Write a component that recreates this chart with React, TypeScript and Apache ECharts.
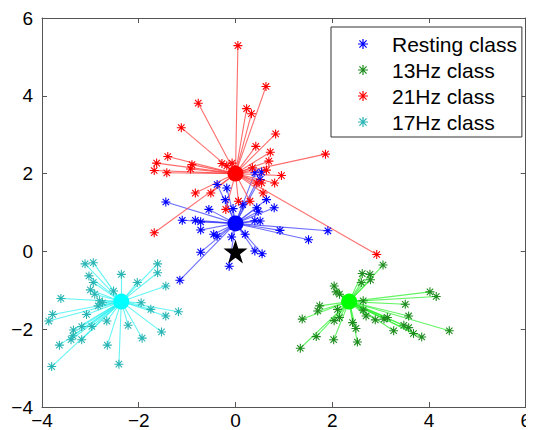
import React, { useEffect, useRef } from "react";
import * as echarts from "echarts";

const xTicks = [-4, -2, 0, 2, 4, 6];
const yTicks = [-4, -2, 0, 2, 4, 6];

const classNames = ["Resting class", "13Hz class", "21Hz class", "17Hz class"];

const restingCenter = [0, 0.72];
const hz13Center = [2.35, -1.29];
const hz21Center = [0, 2.0];
const hz17Center = [-2.36, -1.29];
const testPoint = [0, 0];

const restingPoints = [
  [-1.44, 1.27], [-0.38, 1.72], [-0.18, 1.63], [0.4, 2.02], [0.54, 2.04], [0.51, 1.85],
  [0.8, 1.12], [0.64, 1.33], [0.44, 1.12], [-0.55, 1.08], [-0.21, 1.33], [-1.1, 0.8],
  [-0.83, 0.8], [-0.72, 0.76], [-0.72, 0.55], [-0.45, 0.44], [-0.38, 0.39], [0.2, 0.44],
  [0.4, 0.79], [0.51, 0.78], [0.92, 0.54], [1.91, 0.53], [1.51, 0.3], [0.4, 0.01],
  [0.55, -0.06], [-0.72, -0.02], [-0.13, -0.38], [-1.15, -0.74], [-0.08, 0.37], [0.47, 1.03],
  [0.15, 1.2], [-0.05, 1.1],
];

const hz13Points = [
  [3.05, -0.35], [2.62, -0.57], [2.78, -0.59], [2.79, -0.73], [2.6, -0.8], [2.04, -0.89],
  [2.08, -1.04], [2.15, -1.1], [4.02, -1.04], [4.15, -1.16], [3.51, -1.36], [2.64, -1.27],
  [1.74, -1.4], [1.7, -1.53], [2.11, -1.49], [2.15, -1.7], [1.38, -1.74], [3.58, -1.66],
  [2.7, -1.66], [2.89, -1.76], [3.07, -1.74], [3.14, -1.7], [3.27, -2.04], [3.48, -1.9],
  [3.58, -1.96], [3.68, -2.11], [3.85, -2.2], [4.42, -2.04], [2.04, -1.78], [2.42, -1.83],
  [2.49, -1.98], [1.67, -2.19], [2.03, -2.27], [2.52, -2.33], [1.34, -2.49], [2.64, -1.51],
];

const hz21Points = [
  [0.05, 5.29], [0.63, 4.24], [-0.77, 3.81], [-1.12, 3.18], [0.23, 3.67], [0.33, 3.54],
  [0.83, 3.02], [0.42, 2.7], [1.86, 2.5], [0.72, 2.55], [0.69, 2.32], [0.95, 1.95],
  [0.81, 1.76], [0.64, 2.09], [0.54, 1.76], [-1.4, 2.44], [-1.63, 2.27], [-1.68, 2.08],
  [-1.42, 2.02], [-0.9, 2.23], [-0.93, 2.12], [-0.28, 2.26], [-0.18, 2.2], [-0.07, 2.27],
  [-0.83, 1.5], [-0.51, 1.5], [0.57, 1.5], [0.3, 1.29], [-0.2, 1.08], [0.06, 1.29],
  [2.92, -0.08], [-1.68, 0.48], [0.44, 1.76], [0.35, 2.15],
];

const hz17Points = [
  [-3.11, -0.32], [-2.94, -0.29], [-3.03, -0.63], [-2.94, -0.8], [-3.0, -0.99], [-2.91, -1.1],
  [-3.61, -1.21], [-2.81, -1.27], [-2.75, -1.32], [-2.84, -1.4], [-2.52, -1.02], [-2.36, -0.59],
  [-2.03, -0.8], [-1.61, -0.32], [-1.61, -0.55], [-1.44, -0.89], [-1.95, -1.32], [-1.75, -1.49],
  [-1.44, -1.66], [-1.18, -1.55], [-1.53, -2.07], [-1.93, -2.23], [-2.22, -1.9], [-2.66, -1.79],
  [-2.97, -1.93], [-3.08, -1.62], [-3.78, -1.62], [-3.86, -1.79], [-3.18, -1.93], [-3.35, -2.02],
  [-3.36, -2.17], [-3.4, -2.27], [-3.18, -2.27], [-3.64, -2.41], [-2.65, -2.41], [-2.41, -2.9],
  [-3.8, -2.96],
];

const ASTERISK =
  "path://M0,44 L100,44 L100,56 L0,56 Z M44,0 L56,0 L56,100 L44,100 Z " +
  "M18.5,10 L90,81.5 L81.5,90 L10,18.5 Z M10,81.5 L81.5,10 L90,18.5 L18.5,90 Z";
const STAR =
  "path://M50,0 L61.17,34.63 L97.55,34.55 L68.07,55.87 L79.39,90.45 L50,69 L20.61,90.45 L31.93,55.87 L2.45,34.55 L38.83,34.63 Z";

const FONT = "Liberation Sans, Arial, Helvetica, sans-serif";
const fmt = (v: number) => (v < 0 ? "\u2212" + Math.abs(v) : String(v));

function clusterSeries(
  name: string,
  center: number[],
  pts: number[][],
  lineColor: string,
  markColor: string,
  centerColor: string
) {
  return [
    {
      type: "lines",
      coordinateSystem: "cartesian2d",
      silent: true,
      z: 2,
      lineStyle: { color: lineColor, width: 1.1, opacity: 0.75 },
      data: pts.map((p) => ({ coords: [center, p] })),
    },
    {
      name,
      type: "scatter",
      symbol: ASTERISK,
      symbolSize: 9,
      z: 3,
      itemStyle: { color: markColor, opacity: 1 },
      data: pts,
    },
    {
      type: "scatter",
      symbol: "circle",
      symbolSize: 16,
      z: 4,
      silent: true,
      itemStyle: { color: centerColor, opacity: 1 },
      data: [center],
    },
  ];
}

export default function App() {
  const ref = useRef<HTMLDivElement>(null);
  useEffect(() => {
    if (!ref.current) return;
    const chart = echarts.init(ref.current, null, { renderer: "svg" });
    const axisCommon = {
      type: "value",
      interval: 2,
      splitLine: { show: false },
      axisLine: { show: true, onZero: false, lineStyle: { color: "#555", width: 1 } },
      axisTick: { show: true, inside: true, length: 5, lineStyle: { color: "#555" } },
    };
    chart.setOption({
      animation: false,
      backgroundColor: "#fff",
      grid: { left: 42, right: 3, top: 18, bottom: 23, containLabel: false },
      xAxis: [
        {
          ...axisCommon,
          min: xTicks[0],
          max: xTicks[xTicks.length - 1],
          position: "bottom",
          axisLabel: { fontSize: 19, color: "#000", fontFamily: FONT, margin: 4, formatter: fmt },
        },
        {
          ...axisCommon,
          min: xTicks[0],
          max: xTicks[xTicks.length - 1],
          position: "top",
          axisLabel: { show: false },
        },
      ],
      yAxis: [
        {
          ...axisCommon,
          min: yTicks[0],
          max: yTicks[yTicks.length - 1],
          position: "left",
          axisLabel: { fontSize: 19, color: "#000", fontFamily: FONT, margin: 9, formatter: fmt },
        },
        {
          ...axisCommon,
          min: yTicks[0],
          max: yTicks[yTicks.length - 1],
          position: "right",
          axisLabel: { show: false },
        },
      ],
      legend: {
        orient: "vertical",
        left: 331,
        top: 27,
        padding: [6, 5, 4, 27],
        itemGap: 4,
        itemWidth: 10,
        itemHeight: 10,
        borderColor: "#333",
        borderWidth: 1,
        backgroundColor: "#fff",
        selectedMode: false,
        textStyle: { fontSize: 21, lineHeight: 22, color: "#000", fontFamily: FONT, padding: [0, 0, 0, 19] },
        data: classNames.map((n) => ({ name: n, icon: ASTERISK })),
      },
      series: [
        ...clusterSeries(classNames[0], restingCenter, restingPoints, "#3c3cff", "#0000ff", "#0000ff"),
        ...clusterSeries(classNames[2], hz21Center, hz21Points, "#ff3c3c", "#ff0000", "#ff0000"),
        ...clusterSeries(classNames[3], hz17Center, hz17Points, "#30f0f0", "#2ab5b5", "#00ffff"),
        ...clusterSeries(classNames[1], hz13Center, hz13Points, "#30f030", "#1e8c1e", "#00ff00"),
        {
          type: "scatter",
          symbol: STAR,
          symbolSize: 24,
          z: 5,
          silent: true,
          itemStyle: { color: "#000", opacity: 1 },
          data: [testPoint],
        },
      ],
    });
    return () => chart.dispose();
  }, []);
  return <div ref={ref} style={{ width: 534, height: 430, marginLeft: -8, marginTop: -8 }} />;
}
